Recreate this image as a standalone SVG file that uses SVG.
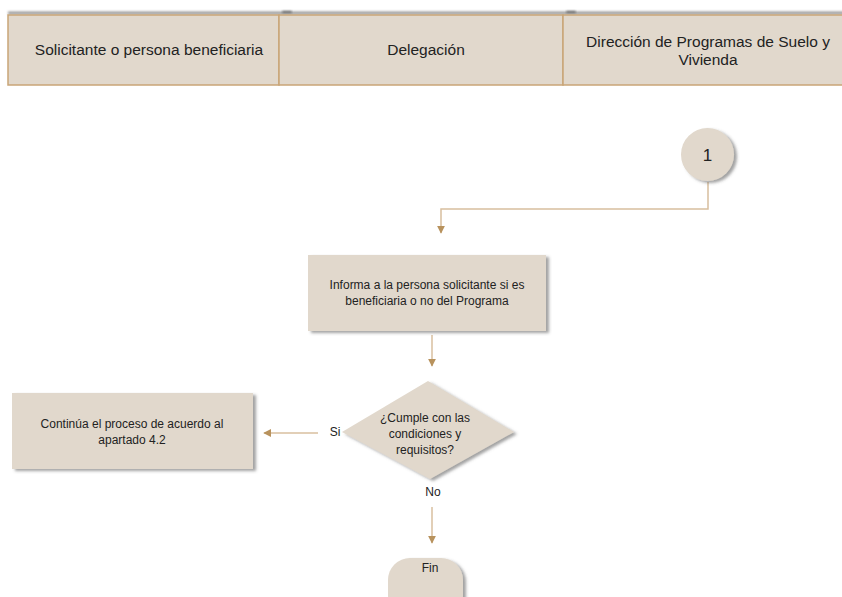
<svg xmlns="http://www.w3.org/2000/svg" width="842" height="597" viewBox="0 0 842 597">
<defs>
<style>
.hdr{fill:#e1d8cc;stroke:#c9a577;stroke-width:1.5}
.node{fill:#e1d8cc}
.t{font-family:"Liberation Sans",Arial,sans-serif;fill:#222;text-anchor:middle}
.h{font-size:15.5px}
.b{font-size:12px}
.conn{fill:none;stroke:#d8bf9f;stroke-width:1.5}
</style>
<filter id="sh" x="-10%" y="-10%" width="130%" height="140%">
<feDropShadow dx="3" dy="2" stdDeviation="1.5" flood-color="#555" flood-opacity="0.55"/>
</filter>
<filter id="blur" x="-5%" y="-200%" width="110%" height="500%"><feGaussianBlur stdDeviation="1"/></filter>
<marker id="arr" viewBox="0 0 10 10" refX="9" refY="5" markerWidth="8" markerHeight="8" markerUnits="userSpaceOnUse" orient="auto">
<path d="M0,0 L10,5 L0,10 Z" fill="#b8925d"/>
</marker>
</defs>
<rect width="842" height="597" fill="#fff"/>
<g id="header">
<rect x="8" y="11.5" width="840" height="3" fill="#9a9a9a" filter="url(#blur)"/>
<rect x="282" y="11" width="10" height="2" rx="1" fill="#666" filter="url(#blur)"/>
<rect x="566" y="11" width="10" height="2" rx="1" fill="#666" filter="url(#blur)"/>
<rect class="hdr" x="8" y="15" width="271" height="70"/>
<rect class="hdr" x="279" y="15" width="284" height="70"/>
<rect class="hdr" x="563" y="15" width="285" height="70"/>
<text class="t h" x="149" y="55">Solicitante o persona beneficiaria</text>
<text class="t h" x="426" y="55">Delegación</text>
<text class="t h" x="708" y="47">Dirección de Programas de Suelo y</text>
<text class="t h" x="708" y="65">Vivienda</text>
</g>
<g id="connectors">
<path class="conn" d="M708,182 V209 H441 V233" marker-end="url(#arr)"/>
<path class="conn" d="M432,335 V366" marker-end="url(#arr)"/>
<path class="conn" d="M318,433 H264" marker-end="url(#arr)"/>
<path class="conn" d="M432,507 V543" marker-end="url(#arr)"/>
<text class="t b" x="335" y="436">Si</text>
<text class="t b" x="433" y="496">No</text>
</g>
<g id="n1">
<circle class="node" cx="707.5" cy="154.5" r="26.5" filter="url(#sh)"/>
<text class="t" x="707.5" y="161" font-size="17">1</text>
</g>
<g id="informa">
<rect class="node" x="308" y="255" width="238" height="76" filter="url(#sh)"/>
<text class="t b" x="427" y="289">Informa a la persona solicitante si es</text>
<text class="t b" x="427" y="305">beneficiaria o no del Programa</text>
</g>
<g id="decision">
<polygon class="node" points="428,381 514,432 430,479 342,432" filter="url(#sh)"/>
<text class="t b" x="425" y="422">¿Cumple con las</text>
<text class="t b" x="425" y="438">condiciones y</text>
<text class="t b" x="425" y="454">requisitos?</text>
</g>
<g id="continua">
<rect class="node" x="12" y="393" width="241" height="76" filter="url(#sh)"/>
<text class="t b" x="132" y="428">Continúa el proceso de acuerdo al</text>
<text class="t b" x="132" y="444">apartado 4.2</text>
</g>
<g id="fin">
<rect class="node" x="388" y="558" width="75" height="60" rx="22" filter="url(#sh)"/>
<text class="t b" x="430" y="572">Fin</text>
</g>
</svg>
